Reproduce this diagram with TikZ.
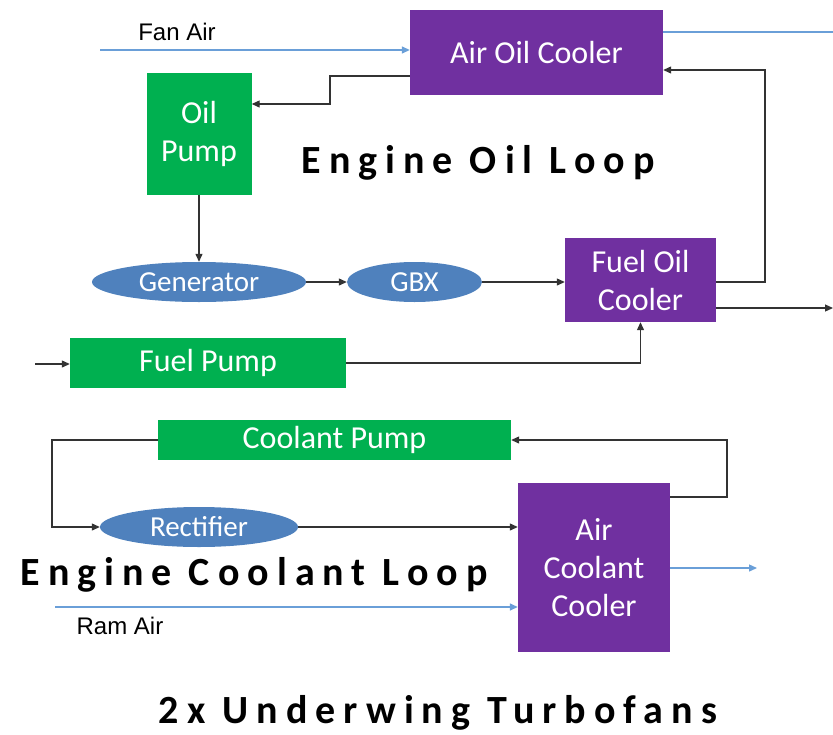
\documentclass[tikz,border=0pt]{standalone}
\usepackage{fontspec}
\setmainfont{Carlito}
\newfontfamily\labelfont{Liberation Sans}
\newfontfamily\titlefont[LetterSpace=20]{Carlito Bold}
\usetikzlibrary{shapes.geometric,arrows.meta,calc}
\definecolor{boxpurple}{HTML}{7030A0}
\definecolor{boxgreen}{HTML}{00B050}
\definecolor{ellblue}{HTML}{4F81BD}
\definecolor{airblue}{HTML}{6A9FD8}
\begin{document}
\begin{tikzpicture}[x=1pt,y=-1pt,
  purplebox/.style={rectangle,fill=boxpurple,text=white,align=center,inner sep=0pt,font=\fontsize{32}{38}\selectfont},
  greenbox/.style={rectangle,fill=boxgreen,text=white,align=center,inner sep=0pt,font=\fontsize{32}{38}\selectfont},
  ellnode/.style={ellipse,fill=ellblue,text=white,inner sep=0pt,font=\fontsize{29}{32}\selectfont},
  arr/.style={draw=black!80,line width=1.2pt,-{Triangle[length=8pt,width=7pt]}},
  barr/.style={draw=airblue,line width=1.4pt,-{Triangle[length=8pt,width=7pt]}},
  bline/.style={draw=airblue,line width=1.4pt},
  airlabel/.style={font=\labelfont\fontsize{24}{28}\selectfont},
  looptitle/.style={font=\titlefont\fontsize{40}{44}\selectfont}
]
\useasboundingbox (0,0) rectangle (833,734);

% nodes
\node[purplebox,minimum width=253pt,minimum height=85pt] (aoc) at (536.5,52.5) {Air Oil Cooler};
\node[greenbox,minimum width=105pt,minimum height=122pt] (oilpump) at (199,134) {Oil\\Pump};
\node[ellnode,minimum width=214pt,minimum height=40pt] (gen) at (199,282) {Generator};
\node[ellnode,minimum width=135pt,minimum height=40pt] (gbx) at (414.5,282) {GBX};
\node[purplebox,minimum width=151pt,minimum height=84pt] (foc) at (640.5,280) {Fuel Oil\\Cooler};
\node[greenbox,minimum width=276pt,minimum height=50pt] (fuelpump) at (208,363) {Fuel Pump};
\node[greenbox,minimum width=353pt,minimum height=40pt] (coolpump) at (334.5,440) {Coolant Pump};
\node[ellnode,minimum width=198pt,minimum height=40pt] (rect) at (199,527) {Rectifier};
\node[purplebox,minimum width=152pt,minimum height=169pt] (acc) at (594,567.5) {Air\\Coolant\\Cooler};

% labels
\node[airlabel] (fanair) at (177,32) {Fan Air};
\node[airlabel] (ramair) at (120,626) {Ram Air};
\node[looptitle] (oiltitle) at (478,163) {Engine Oil Loop};
\node[looptitle] (cooltitle) at (254,575) {Engine Coolant Loop};
\node[looptitle] (wingtitle) at (438,713) {2x Underwing Turbofans};

% helper coordinates
\coordinate (fanstart) at (100,50);
\coordinate (aocout) at (833,32);
\coordinate (j1) at (330,76);
\coordinate (j2) at (330,104);
\coordinate (j3) at (765,282);
\coordinate (j4) at (765,70);
\coordinate (fuelout) at (833,308);
\coordinate (fuelin) at (35,364);
\coordinate (j5) at (727,497);
\coordinate (j6) at (52,527);
\coordinate (accout) at (757,568);
\coordinate (ramin) at (55,607);

% air connectors
\draw[barr] (fanstart) -- (fanstart -| aoc.west);
\draw[bline] (aocout -| aoc.east) -- (aocout);
\draw[barr] (acc.east |- accout) -- (accout);
\draw[barr] (ramin) -- (ramin -| acc.west);

% oil loop
\draw[arr] (aoc.west |- j1) -| (j2) -- (oilpump.east |- j2);
\draw[arr] (oilpump.south) -- (gen.north);
\draw[arr] (gen.east) -- (gbx.west);
\draw[arr] (gbx.east) -- (gbx.east -| foc.west);
\draw[arr] (foc.east |- j3) -- (j3) -- (j4) -- (aoc.east |- j4);
\draw[arr] (foc.east |- fuelout) -- (fuelout);

% fuel
\draw[arr] (fuelin) -- (fuelin -| fuelpump.west);
\draw[arr] (fuelpump.east) -| (foc.south);

% coolant loop
\draw[arr] (acc.east |- j5) -- (j5) |- (coolpump.east);
\draw[arr] (coolpump.west) -| (j6) -- (rect.west);
\draw[arr] (rect.east) -- (rect.east -| acc.west);
\end{tikzpicture}
\end{document}
